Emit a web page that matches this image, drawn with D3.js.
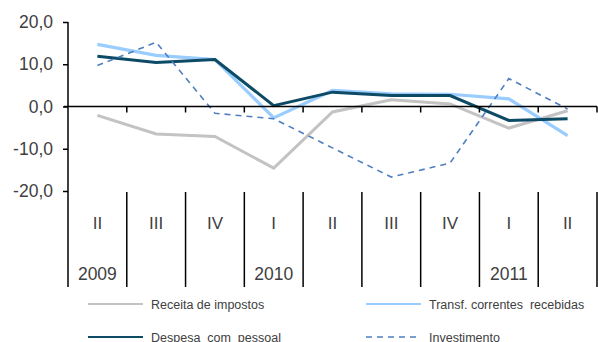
<!DOCTYPE html>
<html>
<head>
<meta charset="utf-8">
<script src="https://cdn.jsdelivr.net/npm/d3@7/dist/d3.min.js"></script>
<style>
  html, body { margin: 0; padding: 0; background: #fff; }
  svg { display: block; font-family: "Liberation Sans", Arial, sans-serif; }
</style>
</head>
<body>
<svg id="chart" width="598" height="342"></svg>
<script>
// Quarterly categories and year labels
const quarters = ["II", "III", "IV", "I", "II", "III", "IV", "I", "II"];
const years = ["2009", "", "", "2010", "", "", "", "2011", ""];

// Year-on-year rates of change (%)
const receitaImpostos = [-2.1, -6.5, -7.1, -14.6, -1.3, 1.6, 0.6, -5.1, -1.0];
const transfCorrentes = [14.7, 12.1, 11.1, -2.7, 3.8, 3.0, 2.9, 1.8, -6.9];
const despesaPessoal  = [11.9, 10.4, 11.1, 0.2, 3.4, 2.6, 2.6, -3.3, -2.9];
const investimento    = [9.7, 15.2, -1.6, -2.9, -9.8, -16.7, -13.4, 6.6, -0.6];

const yTicks = [20, 10, 0, -10, -20];
const yTickLabels = ["20,0", "10,0", "0,0", "-10,0", "-20,0"];

const series = [
  { name: "Receita de impostos",          values: receitaImpostos, color: "#c3c3c3", width: 3,   dash: null },
  { name: "Transf. correntes  recebidas", values: transfCorrentes, color: "#99ccff", width: 3.2, dash: null },
  { name: "Despesa  com  pessoal",        values: despesaPessoal,  color: "#0d4a66", width: 3,   dash: null },
  { name: "Investimento",                 values: investimento,    color: "#4f7fc0", width: 1.6, dash: "6,5" }
];

const svg = d3.select("#chart");
const plotLeft = 68, plotRight = 597, plotTop = 22, plotBottom = 191;
const textColor = "#404040";

const x = d3.scaleBand().domain(d3.range(quarters.length)).range([plotLeft, plotRight]).padding(0);
const y = d3.scaleLinear().domain([-20, 20]).range([plotBottom, plotTop]);
const cx = i => x(i) + x.bandwidth() / 2;

const line = d3.line().x((d, i) => cx(i)).y(d => y(d));

// Y axis
const yAxis = d3.axisLeft(y).tickValues(yTicks).tickSize(5).tickPadding(10)
  .tickFormat((d, i) => yTickLabels[i]);
const gy = svg.append("g").attr("transform", `translate(${plotLeft},0)`).call(yAxis);
gy.select(".domain").remove();
gy.selectAll(".tick line").attr("stroke", "#000").attr("stroke-width", 1.5);
gy.selectAll(".tick text").attr("fill", textColor).style("font-size", "17.5px").attr("font-family", null);

// Category separators under the plot, extending the y-axis downward
const bounds = d3.range(quarters.length + 1).map(i => i < quarters.length ? x(i) : plotRight);
svg.append("line").attr("x1", plotLeft).attr("x2", plotLeft).attr("y1", plotTop).attr("y2", 287)
  .attr("stroke", "#000").attr("stroke-width", 1.5);
svg.append("g").selectAll("line").data(bounds.slice(1)).join("line")
  .attr("x1", d => d).attr("x2", d => d).attr("y1", 192).attr("y2", 287)
  .attr("stroke", "#000").attr("stroke-width", 1.5);

// Series
svg.append("g").selectAll("path").data(series).join("path")
  .attr("d", d => line(d.values))
  .attr("fill", "none")
  .attr("stroke", d => d.color)
  .attr("stroke-width", d => d.width)
  .attr("stroke-dasharray", d => d.dash)
  .attr("stroke-linejoin", "miter");

// Zero line with ticks at category boundaries
svg.append("line").attr("x1", plotLeft - 4).attr("x2", plotRight).attr("y1", y(0)).attr("y2", y(0))
  .attr("stroke", "#000").attr("stroke-width", 1.5);
svg.append("g").selectAll("line").data(bounds.slice(1)).join("line")
  .attr("x1", d => d).attr("x2", d => d).attr("y1", y(0)).attr("y2", y(0) + 6)
  .attr("stroke", "#000").attr("stroke-width", 1.5);

// Quarter and year labels
svg.append("g").selectAll("text").data(quarters).join("text")
  .attr("x", (d, i) => cx(i)).attr("y", 229)
  .attr("text-anchor", "middle").attr("fill", textColor).style("font-size", "17px")
  .text(d => d);
svg.append("g").selectAll("text").data(years).join("text")
  .attr("x", (d, i) => cx(i)).attr("y", 280)
  .attr("text-anchor", "middle").attr("fill", textColor).style("font-size", "17.5px")
  .text(d => d);

// Legend: two columns, two rows (second row sits at the bottom edge)
const legendPos = [[88, 304], [366, 304], [88, 337], [366, 337]];
const lg = svg.append("g").selectAll("g").data(series).join("g")
  .attr("transform", (d, i) => `translate(${legendPos[i][0]},${legendPos[i][1]})`);
lg.append("line").attr("x1", 0).attr("x2", 55).attr("y1", 0).attr("y2", 0)
  .attr("stroke", d => d.color)
  .attr("stroke-width", d => d.dash ? 1.6 : 2.2)
  .attr("stroke-dasharray", d => d.dash);
lg.append("text").attr("x", 63).attr("y", 4.5)
  .attr("fill", textColor).style("font-size", "12.5px").style("white-space", "pre")
  .text(d => d.name);
</script>
</body>
</html>
